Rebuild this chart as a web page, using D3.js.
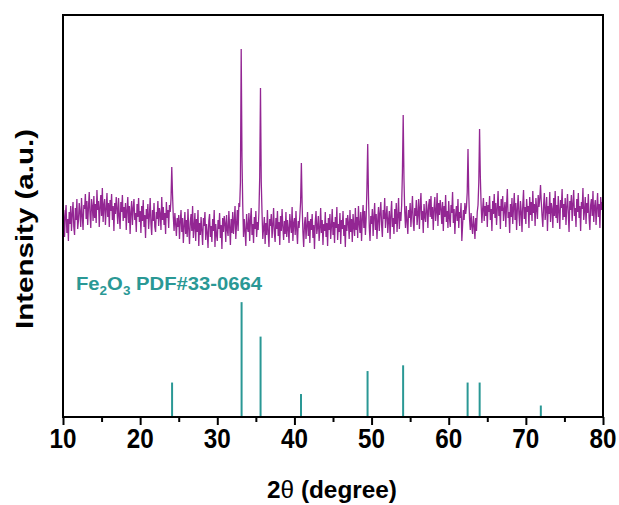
<!DOCTYPE html>
<html><head><meta charset="utf-8">
<script src="https://cdn.jsdelivr.net/npm/d3@7"></script>
<style>body{margin:0;background:#fff}svg{display:block}</style>
</head><body><svg id="c" width="619" height="505"></svg>
<script>
// XRD pattern (2θ from 10° to 80°, step 0.1°), intensity in arbitrary counts
const angleStart = 10, angleStep = 0.1;
const intensity = [
188,207,180,201,212,184,198,176,205,193,
211,186,203,215,190,182,209,197,218,188,
196,214,205,190,219,201,187,212,208,223,
198,216,192,209,225,203,189,218,211,196,
221,199,213,194,227,207,216,190,210,222,
201,229,195,212,218,192,208,224,200,214,
190,217,206,223,197,211,186,214,203,220,
208,193,219,201,188,215,205,222,196,210,
199,214,187,207,220,194,211,183,205,216,
192,209,218,197,204,185,213,200,219,195,
206,184,211,196,217,190,202,179,208,198,
213,188,201,219,193,182,207,196,214,190,
185,205,198,216,191,209,203,187,220,197,
210,192,204,183,215,199,207,189,212,205,
218,250,222,200,186,204,193,181,199,190,
202,178,196,207,185,199,174,191,205,183,
197,180,208,188,173,195,203,186,211,179,
190,204,176,198,185,207,171,194,182,200,
186,172,199,191,205,177,193,184,169,196,
203,180,191,175,198,186,207,170,193,182,
176,197,188,204,179,192,168,199,185,201,
194,175,202,187,181,206,190,172,198,184,
205,183,196,211,178,193,207,186,214,210,
235,368,260,212,180,198,186,171,203,190,
185,204,176,197,209,182,193,174,200,188,
206,180,195,187,205,240,329,235,204,178,
189,200,173,194,182,207,185,170,198,191,
203,179,192,209,184,175,199,188,206,181,
195,172,201,186,208,190,177,196,183,205,
180,197,188,174,203,192,184,210,176,194,
199,182,206,187,173,196,189,201,215,254,
212,185,170,193,200,178,191,205,181,196,
174,198,187,203,179,192,168,195,206,183,
190,201,176,188,209,184,197,172,193,186,
205,180,194,171,199,187,203,178,191,208,
182,195,174,200,189,210,177,193,185,204,
173,197,188,206,181,192,170,199,186,202,
194,178,207,185,198,175,203,190,181,209,
187,200,179,211,193,184,205,176,198,212,
189,206,182,199,230,273,221,190,176,201,
193,208,181,200,214,187,203,178,197,210,
186,204,215,192,180,207,198,219,189,201,
211,184,197,206,178,202,216,190,199,183,
208,193,214,185,201,219,188,205,196,212,
245,302,238,205,189,211,196,183,207,199,
214,190,205,221,195,186,209,201,217,192,
203,218,188,210,224,197,206,184,213,200,
195,216,207,189,212,218,200,221,198,210,
187,209,220,196,205,224,191,214,202,217,
208,193,215,186,211,200,222,195,206,189,
216,199,190,212,204,225,194,208,183,203,
211,196,218,189,205,199,214,176,192,207,
197,214,203,210,225,268,222,198,187,204,
190,183,201,192,178,199,186,205,212,235,
288,240,212,194,208,219,196,211,201,215,
190,212,205,221,197,208,186,216,203,223,
199,214,192,209,226,201,211,188,218,206,
221,196,207,215,190,212,228,199,205,184,
213,200,219,193,209,224,197,214,187,208,
222,203,191,216,206,185,212,227,198,210,
193,218,205,211,189,220,202,215,196,226,
204,213,191,219,208,198,222,210,218,232,
215,201,190,212,224,197,207,220,186,211,
203,225,195,214,208,189,219,201,226,199,
212,194,221,206,188,217,209,228,197,213,
200,219,192,210,223,204,185,216,207,222,
196,213,227,201,209,190,218,205,224,199,
211,186,215,208,229,197,206,220,193,214,
204,223,199,187,212,218,201,226,195,210,
217,192,209,224,200,213,189,220,207,215,
208
];
// Reference pattern Fe2O3 PDF#33-0664
const refAngles = [24.14, 33.15, 35.61, 40.85, 49.48, 54.09, 62.45, 64.01, 71.94];
const refIntensity = [30, 100, 70, 20, 40, 45, 30, 30, 10];
const xTicks = [10, 20, 30, 40, 50, 60, 70, 80];
const xMinorTicks = [15, 25, 35, 45, 55, 65, 75];

const m = {left: 63, right: 603, top: 15, bottom: 417};
const purple = "#800080", teal = "#2a9895";
const font = "'Liberation Sans', Arial, sans-serif";

const svg = d3.select("#c");
const x = d3.scaleLinear().domain([10, 80]).range([m.left, m.right]);
const y = d3.scaleLinear().domain([0, 402]).range([m.bottom, m.top]);
const yRef = d3.scaleLinear().domain([0, 350]).range([m.bottom, m.top]);

svg.append("defs").append("clipPath").attr("id", "clip")
  .append("rect").attr("x", m.left).attr("y", m.top)
  .attr("width", m.right - m.left).attr("height", m.bottom - m.top);

// XRD line
const line = d3.line()
  .x((d, i) => x(angleStart + i * angleStep))
  .y(d => y(d));
svg.append("path").datum(intensity)
  .attr("clip-path", "url(#clip)")
  .attr("d", line)
  .attr("fill", "none")
  .attr("stroke", purple)
  .attr("stroke-width", 1.3)
  .attr("stroke-opacity", 0.85);

// Reference sticks
svg.append("g").selectAll("line").data(refAngles).join("line")
  .attr("x1", d => x(d)).attr("x2", d => x(d))
  .attr("y1", m.bottom)
  .attr("y2", (d, i) => yRef(refIntensity[i]))
  .attr("stroke", teal).attr("stroke-width", 2);

// Reference label
const lbl = svg.append("text")
  .attr("x", 76).attr("y", 290)
  .attr("font-family", font).attr("font-weight", "bold")
  .attr("font-size", 18).attr("fill", teal)
  .attr("textLength", 186).attr("lengthAdjust", "spacingAndGlyphs");
lbl.append("tspan").text("Fe");
lbl.append("tspan").attr("font-size", 12).attr("dy", 5).text("2");
lbl.append("tspan").attr("dy", -5).text("O");
lbl.append("tspan").attr("font-size", 12).attr("dy", 5).text("3");
lbl.append("tspan").attr("dy", -5).text(" PDF#33-0664");

// Frame
svg.append("rect")
  .attr("x", m.left).attr("y", m.top)
  .attr("width", m.right - m.left).attr("height", m.bottom - m.top)
  .attr("fill", "none").attr("stroke", "#000").attr("stroke-width", 2);

// X axis ticks
const gx = svg.append("g").attr("transform", `translate(0,${m.bottom})`)
  .call(d3.axisBottom(x).tickValues(xTicks).tickSize(8).tickFormat(""));
const gxm = svg.append("g").attr("transform", `translate(0,${m.bottom})`)
  .call(d3.axisBottom(x).tickValues(xMinorTicks).tickSize(5).tickFormat(""));
[gx, gxm].forEach(g => {
  g.select(".domain").remove();
  g.selectAll(".tick line").attr("stroke", "#000").attr("stroke-width", 2);
});

// Tick labels
svg.append("g").selectAll("text").data(xTicks).join("text")
  .attr("x", d => x(d)).attr("y", 448)
  .attr("text-anchor", "middle")
  .attr("font-family", font).attr("font-weight", "bold")
  .attr("font-size", 27)
  .attr("textLength", 27).attr("lengthAdjust", "spacingAndGlyphs")
  .text(d => d);

// X title
const xt = svg.append("text")
  .attr("x", 332).attr("y", 498)
  .attr("text-anchor", "middle")
  .attr("font-family", font).attr("font-weight", "bold")
  .attr("font-size", 24)
  .attr("textLength", 130).attr("lengthAdjust", "spacingAndGlyphs");
xt.append("tspan").text("2");
xt.append("tspan").attr("font-weight", "normal").text("θ");
xt.append("tspan").text(" (degree)");

// Y title
svg.append("text")
  .attr("transform", "translate(33,229) rotate(-90)")
  .attr("text-anchor", "middle")
  .attr("font-family", font).attr("font-weight", "bold")
  .attr("font-size", 24)
  .attr("textLength", 200).attr("lengthAdjust", "spacingAndGlyphs")
  .text("Intensity (a.u.)");
</script>
</body></html>
